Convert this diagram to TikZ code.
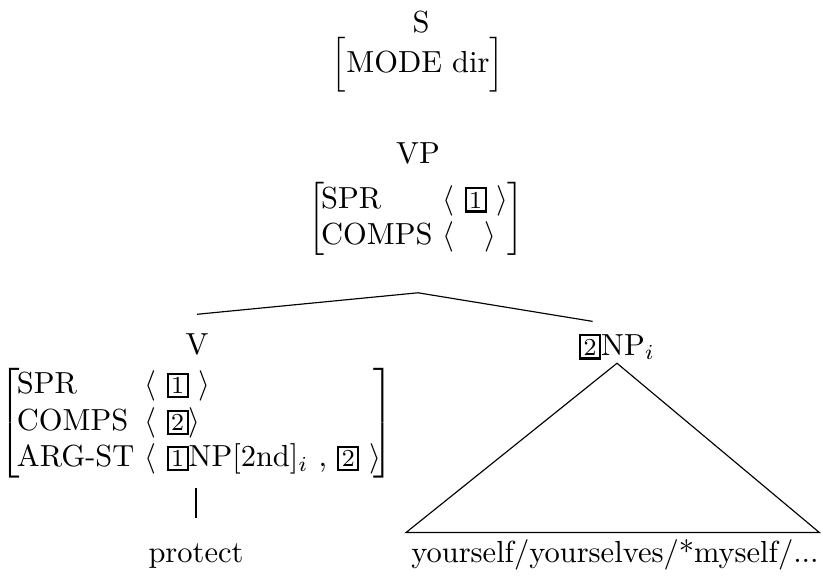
\documentclass[tikz,border=0pt]{standalone}
\usepackage{amsmath}
\newcommand{\tagbx}[1]{{\setlength{\fboxsep}{0.8pt}\setlength{\fboxrule}{0.7pt}\fbox{\footnotesize #1}}}
\newcommand{\avmbox}[3]{$\left[\begin{tabular}{@{\hspace{#1}}l@{\ }l@{\hspace{#2}}}#3\end{tabular}\right]$}
\tikzset{
  lbl/.style={inner sep=1pt, font=\normalsize},
  edge/.style={draw=black, line width=0.38pt},
}
\begin{document}
\begin{tikzpicture}[x=0.328pt, y=-0.328pt]
\useasboundingbox (0,0) rectangle (823,578);
\node[lbl, anchor=base] (S) at (421,32) {S};
\node[lbl] (Savm) at (418,65) {$\Bigl[\text{MODE dir}\Bigr]$};
\node[lbl, anchor=base] (VP) at (418,163) {VP};
\node[lbl, anchor=west] (VPavm) at (305,219) {\avmbox{-1.2pt}{-0.5pt}{SPR & $\langle$ \tagbx{1} $\rangle$\\ COMPS & $\langle$\ \ \ $\rangle$}};
\node[lbl, anchor=base] (V) at (197,354) {V};
\node[lbl, anchor=west] (Vavm) at (-4,423) {\avmbox{-1pt}{-2.5pt}{SPR & $\langle$ \tagbx{1} $\rangle$\\ COMPS & $\langle$ \tagbx{2}$\rangle$\\ ARG-ST & $\langle$ \tagbx{1}NP[2nd]$_i$\ , \tagbx{2} $\rangle$}};
\node[lbl, anchor=base] (NP) at (617,355) {\tagbx{2}NP$_i$};
\node[lbl, anchor=base] (protect) at (196,562) {protect};
\node[lbl, anchor=base, inner xsep=0pt] (yours) at (615,562) {yourself/yourselves/*myself/...};
\coordinate (apex) at ([yshift=-11pt]VPavm.south);
\draw[edge] (apex -| VP) -- ([yshift=5pt]V.north);
\draw[edge] (apex -| VP) -- ([xshift=-8pt,yshift=3pt]NP.north);
\draw[edge] (NP.south) -- ([xshift=-1.5pt,yshift=1pt]yours.north west) -- ([yshift=1pt]yours.north east) -- cycle;
\draw[edge] ([yshift=-2pt]Vavm.south -| protect) -- ([yshift=7pt]protect.north);
\end{tikzpicture}
\end{document}
